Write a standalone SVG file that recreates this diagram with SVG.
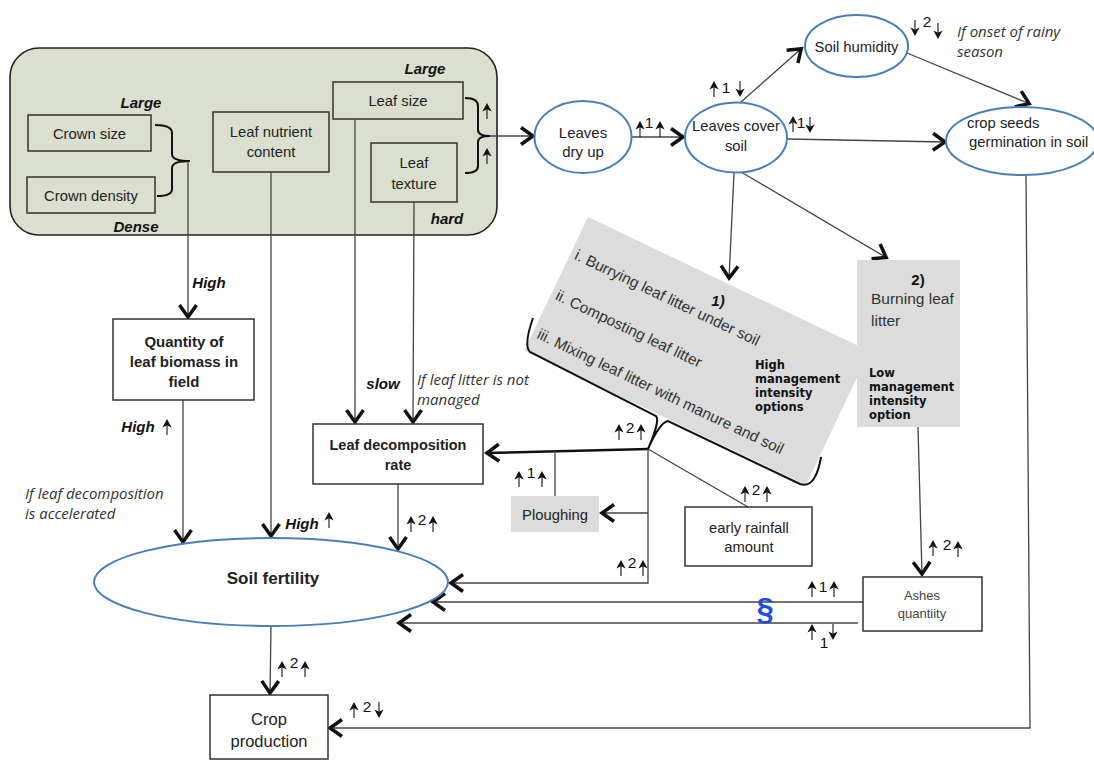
<svg xmlns="http://www.w3.org/2000/svg" xmlns:xlink="http://www.w3.org/1999/xlink" width="1094" height="761" viewBox="0 0 1094 761">
  <style>
    .t { font-family: "Liberation Sans", Arial, sans-serif; font-size: 14.8px; fill: #222; text-anchor: middle; }
    .tl { font-family: "Liberation Sans", Arial, sans-serif; font-size: 15px; fill: #333; }
    .b { font-weight: bold; }
    .lbl { font-family: "Liberation Sans", Arial, sans-serif; font-size: 15px; font-weight: bold; font-style: italic; fill: #111; text-anchor: middle; }
    .ann { font-family: "Open Sans", Lato, sans-serif; font-size: 15px; font-style: italic; fill: #333; }
    .mg { font-family: "DejaVu Sans", sans-serif; font-size: 11.5px; font-weight: bold; fill: #111; }
    .num { font-family: "Liberation Sans", Arial, sans-serif; font-size: 15.5px; fill: #111; text-anchor: middle; }
    .box { fill: #fff; stroke: #333; stroke-width: 1.5; }
    .ibox { fill: #dbdfcf; stroke: #333; stroke-width: 1.5; }
    .gbox { fill: #dcdcdc; stroke: none; }
    .ell { fill: #fff; stroke: #4a7ebb; stroke-width: 2; }
    .ln { fill: none; stroke: #444; stroke-width: 1.3; }
    .arr { marker-end: url(#ah); }
    .brace { fill: none; stroke: #111; stroke-width: 2; }
  </style>
  <defs>
    <marker id="ah" markerUnits="userSpaceOnUse" markerWidth="22" markerHeight="24" viewBox="-16 -12 22 24" refX="1" refY="0" orient="auto">
      <path d="M-12,-8.5 L0,0 L-12,8.5" fill="none" stroke="#111" stroke-width="3.5"/>
    </marker>
    <!-- small trend arrows: origin at the bottom of the glyph -->
    <g id="up">
      <path d="M0,0 V-10" stroke="#111" stroke-width="1.1"/>
      <path d="M0,-16 L-4.6,-7.5 L0,-9.8 L4.6,-7.5 Z" fill="#111"/>
    </g>
    <g id="dn">
      <path d="M0,-16 V-6" stroke="#111" stroke-width="1.1"/>
      <path d="M0,0 L-4.6,-8.5 L0,-6.2 L4.6,-8.5 Z" fill="#111"/>
    </g>
  </defs>

  <rect width="1094" height="761" fill="#fff"/>

  <!-- tree characteristics panel -->
  <g id="tree-traits">
    <rect x="10" y="48" width="487" height="187" rx="29" fill="#dbdfcf" stroke="#222" stroke-width="1.6"/>
    <text class="lbl" x="141" y="108">Large</text>
    <text class="lbl" x="136" y="232">Dense</text>
    <text class="lbl" x="425" y="74">Large</text>
    <text class="lbl" x="447" y="224">hard</text>
    <path class="brace" d="M155,125 Q172,125 172,133 L172,154 Q172,161 190,161 Q172,161 172,168 L172,189 Q172,196 157,196" stroke-width="1.8"/>
    <path class="brace" d="M465,98 Q478,98 478,106 L478,130 Q478,136 490,136 Q478,136 478,142 L478,166 Q478,173 465,173" stroke-width="1.8"/>
    <use xlink:href="#up" x="487" y="119"/>
    <use xlink:href="#up" x="487" y="164"/>
  </g>
  <g id="crown-size">
    <rect class="ibox" x="28" y="115" width="123" height="36"/>
    <text class="t" x="89.5" y="139">Crown size</text>
  </g>
  <g id="crown-density">
    <rect class="ibox" x="27" y="177" width="128" height="36"/>
    <text class="t" x="91" y="201">Crown density</text>
  </g>
  <g id="leaf-nutrient">
    <rect class="ibox" x="213" y="112" width="116" height="60"/>
    <text class="t" x="271" y="137">Leaf nutrient</text>
    <text class="t" x="271" y="157">content</text>
  </g>
  <g id="leaf-size">
    <rect class="ibox" x="333" y="82" width="130" height="37"/>
    <text class="t" x="398" y="106">Leaf size</text>
  </g>
  <g id="leaf-texture">
    <rect class="ibox" x="371" y="143" width="86" height="59"/>
    <text class="t" x="414" y="168">Leaf</text>
    <text class="t" x="414" y="189">texture</text>
  </g>

  <!-- connectors -->
  <g id="connectors">
    <path class="ln arr" d="M490,136 L534,136"/>
    <path class="ln arr" d="M188,161 L188,318"/>
    <path class="ln arr" d="M271,172 L271,537"/>
    <path class="ln arr" d="M355,119 L355,423"/>
    <path class="ln arr" d="M414,202 L413,423"/>
    <path class="ln arr" d="M183,400 L183,543"/>
    <path class="ln arr" d="M398,484 L398,550"/>
    <path class="ln arr" d="M632,137 L684,137"/>
    <path class="ln arr" d="M741,102 L802,48"/>
    <path class="ln arr" d="M907,53 L1030,104"/>
    <path class="ln arr" d="M787,139 L946,142"/>
    <path class="ln arr" d="M734,173 L729,279"/>
    <path class="ln arr" d="M741,172 L887,258"/>
    <path class="ln arr" d="M918,427 L922,575"/>
    <path d="M648,449 L486,453" fill="none" stroke="#111" stroke-width="2.5" marker-end="url(#ah)"/>
    <path class="ln" d="M555,451 L555,496"/>
    <path class="ln arr" d="M648,449 L648,583 L450,583"/>
    <path class="ln arr" d="M648,513 L601,513"/>
    <path class="ln" d="M648,449 L748,507"/>
    <path class="ln arr" d="M863,602 L432,602"/>
    <path class="ln arr" d="M858,623 L398,623"/>
    <path class="ln arr" d="M271,626 L270,694"/>
    <path class="ln arr" d="M1026,175 L1030,728 L329,728"/>
  </g>

  <g id="leaves-dry-up">
    <ellipse class="ell" cx="583" cy="137" rx="48.5" ry="36"/>
    <text class="t" x="583" y="138" style="font-size:15px">Leaves</text>
    <text class="t" x="583" y="157" style="font-size:15px">dry up</text>
  </g>
  <g id="leaves-cover-soil">
    <ellipse class="ell" cx="736" cy="137.5" rx="51" ry="35"/>
    <text class="t" x="736" y="131">Leaves cover</text>
    <text class="t" x="736" y="151">soil</text>
  </g>
  <g id="soil-humidity">
    <ellipse class="ell" cx="856.5" cy="46" rx="51.5" ry="31"/>
    <text class="t" x="856.5" y="52">Soil humidity</text>
  </g>
  <g id="crop-seeds-germination">
    <ellipse class="ell" cx="1022" cy="141" rx="76" ry="34"/>
    <text class="t" x="967" y="128" style="text-anchor:start">crop seeds</text>
    <text class="t" x="969" y="147" style="text-anchor:start">germination in soil</text>
  </g>

  <!-- high management intensity options -->
  <g id="high-management-options">
    <g transform="translate(588,217) rotate(25.5)">
      <rect class="gbox" x="0" y="0" width="312" height="148"/>
      <text class="tl" x="5" y="44" style="font-size:15.4px">i. Burrying leaf litter under soil</text>
      <text class="tl" x="5" y="88.5" style="font-size:15.4px">ii. Composting leaf litter</text>
      <text class="tl" x="5" y="131.5" style="font-size:15.4px">iii. Mixing leaf litter  with manure and soil</text>
    </g>
    <text class="lbl" x="718" y="306">1)</text>
    <text class="mg" x="755" y="369">High</text>
    <text class="mg" x="755" y="383">management</text>
    <text class="mg" x="755" y="397">intensity</text>
    <text class="mg" x="755" y="411">options</text>
    <path class="brace" d="M533,318 C527,335 525,347 530,352 L656,416 C660,420 652,440 648,449 C652,440 660,422 668,421 L800,484 C812,488 818,475 821,457"/>
  </g>
  <g id="low-management-option">
    <rect class="gbox" x="857" y="260" width="103" height="167"/>
    <text class="t b" x="918" y="285" style="font-size:15px;fill:#111">2)</text>
    <text class="tl" x="871" y="304" style="font-size:15.5px">Burning leaf</text>
    <text class="tl" x="871" y="326" style="font-size:15.5px">litter</text>
    <text class="mg" x="869" y="377">Low</text>
    <text class="mg" x="869" y="391">management</text>
    <text class="mg" x="869" y="405">intensity</text>
    <text class="mg" x="869" y="419">option</text>
  </g>

  <g id="leaf-biomass">
    <rect class="box" x="113" y="319" width="141" height="81"/>
    <text class="t b" x="184" y="347" style="font-size:15px">Quantity of</text>
    <text class="t b" x="184" y="367" style="font-size:15px">leaf biomass in</text>
    <text class="t b" x="184" y="387" style="font-size:15px">field</text>
  </g>
  <g id="leaf-decomposition">
    <rect class="box" x="313" y="424" width="170" height="60"/>
    <text class="t b" x="398" y="450" style="font-size:14.5px">Leaf decomposition</text>
    <text class="t b" x="398" y="470" style="font-size:14.5px">rate</text>
  </g>
  <g id="ploughing">
    <rect class="gbox" x="511" y="496" width="88" height="36"/>
    <text class="t" x="555" y="520">Ploughing</text>
  </g>
  <g id="early-rainfall">
    <rect class="box" x="685" y="507" width="127" height="59"/>
    <text class="t" x="749" y="533">early rainfall</text>
    <text class="t" x="749" y="552">amount</text>
  </g>
  <g id="ashes-quantity">
    <rect class="box" x="863" y="577" width="119" height="54"/>
    <text class="t" x="922" y="600" style="font-size:13px;fill:#444">Ashes</text>
    <text class="t" x="922" y="618" style="font-size:13px;fill:#444">quantiity</text>
  </g>
  <g id="soil-fertility">
    <ellipse class="ell" cx="271" cy="582" rx="177" ry="44"/>
    <text class="t b" x="273" y="584" style="font-size:17px">Soil fertility</text>
  </g>
  <g id="crop-production">
    <rect class="box" x="210" y="695" width="118" height="64"/>
    <text class="t" x="269" y="725" style="font-size:16.5px">Crop</text>
    <text class="t" x="269" y="747" style="font-size:16.5px">production</text>
  </g>

  <!-- edge labels -->
  <g id="labels">
    <text class="lbl" x="209" y="288">High</text>
    <text class="lbl" x="138" y="432">High</text>
    <use xlink:href="#up" x="167" y="435"/>
    <text class="lbl" x="302" y="529">High</text>
    <use xlink:href="#up" x="329" y="528"/>
    <text class="lbl" x="383" y="389">slow</text>
    <text class="ann" x="417" y="385">If leaf litter is not</text>
    <text class="ann" x="417" y="405">managed</text>
    <text class="ann" x="25" y="499">If leaf decomposition</text>
    <text class="ann" x="25" y="519">is accelerated</text>
    <text class="ann" x="957" y="37">If onset of rainy</text>
    <text class="ann" x="957" y="57">season</text>
    <text x="765" y="620" font-family="'Liberation Sans', Arial, sans-serif" font-size="31" font-weight="bold" fill="#1f4ee0" text-anchor="middle">§</text>
  </g>

  <!-- trend markers -->
  <g id="trends">
    <use xlink:href="#up" x="640" y="137"/><text class="num" x="649" y="128">1</text><use xlink:href="#up" x="660" y="137"/>
    <use xlink:href="#up" x="714" y="97"/><text class="num" x="726" y="93">1</text><use xlink:href="#dn" x="740" y="97"/>
    <use xlink:href="#up" x="793" y="132"/><text class="num" x="801" y="128">1</text><use xlink:href="#dn" x="810" y="133"/>
    <use xlink:href="#dn" x="915" y="36"/><text class="num" x="927" y="27">2</text><use xlink:href="#dn" x="938" y="39"/>
    <use xlink:href="#up" x="619" y="440"/><text class="num" x="630" y="433">2</text><use xlink:href="#up" x="641" y="440"/>
    <use xlink:href="#up" x="519" y="487"/><text class="num" x="531" y="478">1</text><use xlink:href="#up" x="542" y="487"/>
    <use xlink:href="#up" x="745" y="502"/><text class="num" x="756" y="495">2</text><use xlink:href="#up" x="767" y="502"/>
    <use xlink:href="#up" x="621" y="576"/><text class="num" x="632" y="568">2</text><use xlink:href="#up" x="643" y="576"/>
    <use xlink:href="#up" x="933" y="556"/><text class="num" x="947" y="550">2</text><use xlink:href="#up" x="958" y="557"/>
    <use xlink:href="#up" x="812" y="597"/><text class="num" x="823" y="592">1</text><use xlink:href="#up" x="834" y="597"/>
    <use xlink:href="#up" x="812" y="640"/><text class="num" x="824" y="648">1</text><use xlink:href="#dn" x="833" y="640"/>
    <use xlink:href="#up" x="411" y="532"/><text class="num" x="422" y="525">2</text><use xlink:href="#up" x="433" y="532"/>
    <use xlink:href="#up" x="282" y="677"/><text class="num" x="294" y="668">2</text><use xlink:href="#up" x="305" y="677"/>
    <use xlink:href="#up" x="354" y="718"/><text class="num" x="367" y="712">2</text><use xlink:href="#dn" x="379" y="718"/>
  </g>
</svg>
